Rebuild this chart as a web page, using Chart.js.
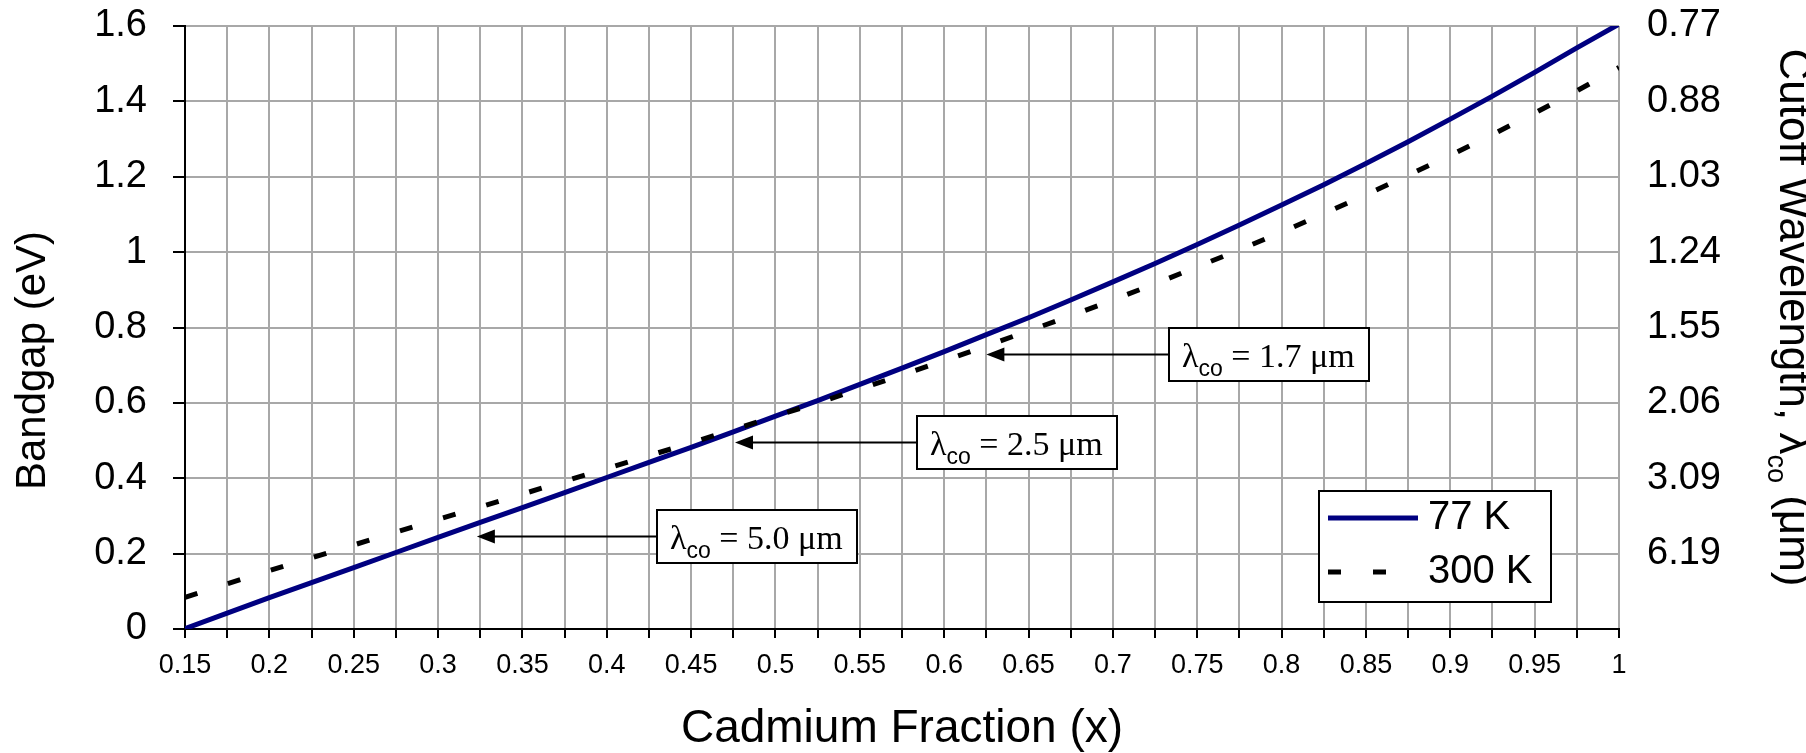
<!DOCTYPE html>
<html>
<head>
<meta charset="utf-8">
<title>HgCdTe bandgap vs cadmium fraction</title>
<script src="https://cdn.jsdelivr.net/npm/chart.js@4.4.1/dist/chart.umd.min.js"></script>
<style>
  html, body { margin: 0; padding: 0; background: #fff; }
  #wrap { position: relative; width: 1806px; height: 753px; }
</style>
</head>
<body>
<div id="wrap"><canvas id="gapChart"></canvas></div>
<script>
// Values
const cdFraction = [0.15, 0.175, 0.2, 0.225, 0.25, 0.275, 0.3, 0.325, 0.35, 0.375, 0.4, 0.425,
  0.45, 0.475, 0.5, 0.525, 0.55, 0.575, 0.6, 0.625, 0.65, 0.675, 0.7, 0.725, 0.75, 0.775,
  0.8, 0.825, 0.85, 0.875, 0.9, 0.925, 0.95, 0.975, 1];
const gap77K = [0.001, 0.042, 0.083, 0.123, 0.163, 0.203, 0.243, 0.283, 0.322, 0.362, 0.402, 0.442,
  0.482, 0.523, 0.565, 0.606, 0.649, 0.692, 0.736, 0.781, 0.826, 0.873, 0.921, 0.970, 1.020, 1.072,
  1.125, 1.179, 1.235, 1.293, 1.353, 1.414, 1.477, 1.542, 1.605];
const gap300K = [0.084, 0.120, 0.155, 0.189, 0.223, 0.257, 0.291, 0.324, 0.358, 0.392, 0.426, 0.460,
  0.494, 0.529, 0.565, 0.600, 0.637, 0.674, 0.712, 0.751, 0.791, 0.831, 0.873, 0.916, 0.961, 1.006,
  1.053, 1.102, 1.152, 1.204, 1.257, 1.312, 1.369, 1.428, 1.490];

const xTickLabels = ['0.15', '0.2', '0.25', '0.3', '0.35', '0.4', '0.45', '0.5', '0.55', '0.6',
  '0.65', '0.7', '0.75', '0.8', '0.85', '0.9', '0.95', '1'];
const yTickLabels = ['0', '0.2', '0.4', '0.6', '0.8', '1', '1.2', '1.4', '1.6'];
const cutoffTickLabels = ['', '6.19', '3.09', '2.06', '1.55', '1.24', '1.03', '0.88', '0.77'];

// cutoff wavelength call-outs
const markerLabels = ['5.0', '2.5', '1.7'];
const markerEnergy = [0.248, 0.496, 0.729];
const markerTipX = [0.323, 0.476, 0.625];
const markerBoxX = [0.43, 0.584, 0.733];

const SANS = '"Liberation Sans", Arial, sans-serif';
const SERIF = '"Liberation Serif", "Times New Roman", serif';
const GRID = '#a8a8a8';

function toPoints(xs, ys) {
    return xs.map((x, i) => ({ x: x, y: ys[i] }));
}

// keep the plot area where the original has it
function fixWidth(w) {
    return s => { s.width = w; s.paddingTop = 0; s.paddingBottom = 0; };
}

const markerPlugin = {
    id: 'cutoffMarkers',
    afterDatasetsDraw(chart) {
        const { ctx, scales: { x, y } } = chart;
        const boxW = 200, boxH = 53;
        ctx.save();
        markerLabels.forEach((label, i) => {
            const py = Math.round(y.getPixelForValue(markerEnergy[i])) + 0.5;
            const tip = x.getPixelForValue(markerTipX[i]);
            const boxLeft = Math.round(x.getPixelForValue(markerBoxX[i]));

            ctx.strokeStyle = '#000';
            ctx.lineWidth = 2;
            ctx.beginPath();
            ctx.moveTo(boxLeft, py);
            ctx.lineTo(tip + 14, py);
            ctx.stroke();
            ctx.fillStyle = '#000';
            ctx.beginPath();
            ctx.moveTo(tip, py);
            ctx.lineTo(tip + 18, py - 7);
            ctx.lineTo(tip + 18, py + 7);
            ctx.closePath();
            ctx.fill();

            const top = Math.round(py - boxH / 2);
            ctx.fillStyle = '#fff';
            ctx.fillRect(boxLeft, top, boxW, boxH);
            ctx.strokeRect(boxLeft, top, boxW, boxH);

            let tx = boxLeft + 13;
            const base = py + 12;
            ctx.fillStyle = '#000';
            ctx.textAlign = 'left';
            ctx.textBaseline = 'alphabetic';
            ctx.font = '34px ' + SERIF;
            ctx.fillText('λ', tx, base);
            tx += ctx.measureText('λ').width;
            ctx.font = '23px ' + SANS;
            ctx.fillText('co', tx, base + 9);
            tx += ctx.measureText('co').width;
            ctx.font = '34px ' + SERIF;
            ctx.fillText(' = ' + label + ' μm', tx, base);
        });
        ctx.restore();
    }
};

const legendPlugin = {
    id: 'boxedLegend',
    afterDraw(chart) {
        const { ctx, chartArea } = chart;
        const left = chartArea.right - 300, top = chartArea.bottom - 138;
        ctx.save();
        ctx.fillStyle = '#fff';
        ctx.fillRect(left, top, 232, 111);
        ctx.strokeStyle = '#000';
        ctx.lineWidth = 2;
        ctx.strokeRect(left, top, 232, 111);
        chart.data.datasets.forEach((ds, i) => {
            const rowY = top + 27 + i * 54;
            ctx.strokeStyle = ds.borderColor;
            ctx.lineWidth = ds.borderWidth;
            ctx.setLineDash(ds.borderDash || []);
            ctx.beginPath();
            ctx.moveTo(left + 9, rowY);
            ctx.lineTo(left + 99, rowY);
            ctx.stroke();
            ctx.setLineDash([]);
            ctx.fillStyle = '#000';
            ctx.font = '40px ' + SANS;
            ctx.textAlign = 'left';
            ctx.textBaseline = 'middle';
            ctx.fillText(ds.label, left + 109, rowY);
        });
        ctx.restore();
    }
};

// vertical axis titles (the right one needs a subscript)
const sideTitlePlugin = {
    id: 'sideTitles',
    afterDraw(chart) {
        const { ctx, chartArea, scales } = chart;
        const midY = (chartArea.top + chartArea.bottom) / 2;

        ctx.save();
        ctx.fillStyle = '#000';
        ctx.textBaseline = 'middle';
        ctx.textAlign = 'center';
        ctx.font = '42px ' + SANS;
        ctx.translate(scales.y.left + 33, midY + 33);
        ctx.rotate(-Math.PI / 2);
        ctx.fillText('Bandgap (eV)', 0, 0);
        ctx.restore();

        ctx.save();
        ctx.fillStyle = '#000';
        ctx.textBaseline = 'middle';
        ctx.textAlign = 'left';
        const head = 'Cutoff Wavelength, λ', sub = 'co', tail = ' (μm)';
        ctx.font = '44px ' + SANS;
        const wHead = ctx.measureText(head).width, wTail = ctx.measureText(tail).width;
        ctx.font = '27px ' + SANS;
        const wSub = ctx.measureText(sub).width;
        ctx.translate(scales.y2.right - 14, midY - 10);
        ctx.rotate(Math.PI / 2);
        let tx = -(wHead + wSub + wTail) / 2;
        ctx.font = '44px ' + SANS;
        ctx.fillText(head, tx, 0);
        tx += wHead;
        ctx.font = '27px ' + SANS;
        ctx.fillText(sub, tx, 17);
        tx += wSub;
        ctx.font = '44px ' + SANS;
        ctx.fillText(tail, tx, 0);
        ctx.restore();
    }
};

Chart.defaults.font.family = SANS;
Chart.defaults.color = '#000';

new Chart(document.getElementById('gapChart'), {
    type: 'line',
    data: {
        datasets: [
            {
                label: '77 K',
                data: toPoints(cdFraction, gap77K),
                borderColor: '#000080',
                borderWidth: 5,
                pointRadius: 0,
                tension: 0,
                order: 2
            },
            {
                label: '300 K',
                data: toPoints(cdFraction, gap300K),
                borderColor: '#000',
                borderWidth: 5,
                borderDash: [13, 32],
                pointRadius: 0,
                tension: 0,
                order: 1
            }
        ]
    },
    options: {
        responsive: true,
        maintainAspectRatio: false,
        animation: false,
        layout: { padding: { top: 26, left: 0, right: 0, bottom: 0 } },
        plugins: { legend: { display: false }, tooltip: { enabled: false } },
        scales: {
            x: {
                type: 'linear',
                position: 'bottom',
                min: 0.15,
                max: 1,
                afterFit: s => { s.height = 124; s.paddingLeft = 0; s.paddingRight = 0; },
                ticks: {
                    stepSize: 0.025,
                    autoSkip: false,
                    maxRotation: 0,
                    minRotation: 0,
                    padding: 11,
                    font: { size: 27 },
                    callback: (v, i) => (i % 2 === 0 ? xTickLabels[i / 2] : '')
                },
                grid: {
                    color: c => (c.index === 0 ? 'rgba(0,0,0,0)' : GRID),
                    lineWidth: 2,
                    tickLength: 9,
                    tickColor: '#000',
                    tickWidth: 2
                },
                border: { color: '#000', width: 2 },
                title: {
                    display: true,
                    text: 'Cadmium Fraction (x)',
                    font: { size: 46, lineHeight: 1 },
                    padding: { top: 0, bottom: 1 }
                }
            },
            y: {
                position: 'left',
                min: 0,
                max: 1.6,
                afterFit: fixWidth(185),
                ticks: {
                    stepSize: 0.2,
                    padding: 26,
                    font: { size: 38 },
                    callback: (v, i) => yTickLabels[i]
                },
                grid: {
                    color: c => (c.index === 0 ? 'rgba(0,0,0,0)' : GRID),
                    lineWidth: 2,
                    tickLength: 12,
                    tickColor: '#000',
                    tickWidth: 2
                },
                border: { color: '#000', width: 2 }
            },
            y2: {
                position: 'right',
                min: 0,
                max: 1.6,
                afterFit: fixWidth(187),
                ticks: {
                    stepSize: 0.2,
                    padding: 28,
                    font: { size: 38 },
                    callback: (v, i) => cutoffTickLabels[i]
                },
                grid: { display: false, drawTicks: false },
                border: { display: false }
            }
        }
    },
    plugins: [markerPlugin, legendPlugin, sideTitlePlugin]
});
</script>
</body>
</html>
